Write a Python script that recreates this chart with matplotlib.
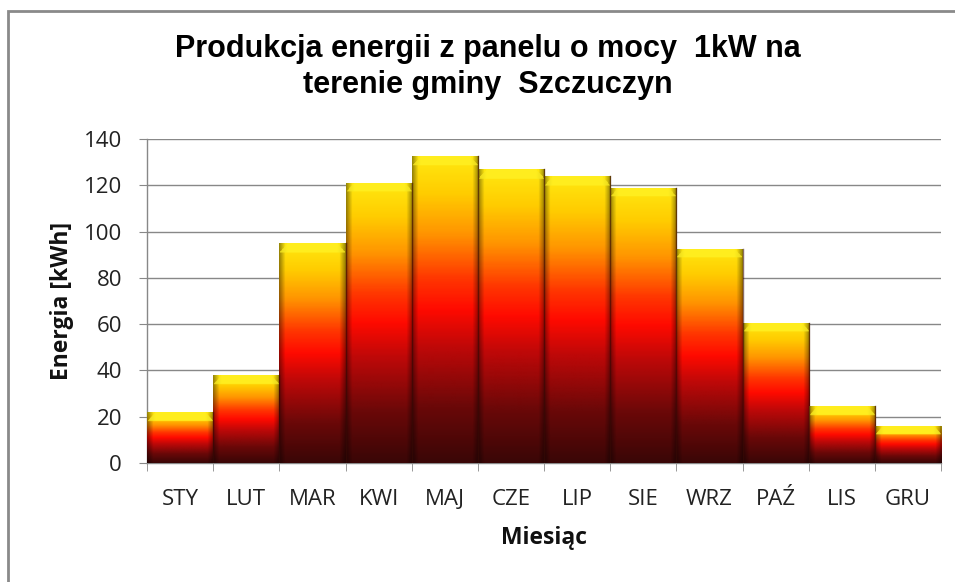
import matplotlib
matplotlib.use("Agg")
import matplotlib.pyplot as plt
import numpy as np
from matplotlib.colors import LinearSegmentedColormap
from matplotlib.patches import Rectangle

months = ["STY", "LUT", "MAR", "KWI", "MAJ", "CZE", "LIP", "SIE", "WRZ", "PAŹ", "LIS", "GRU"]
energy = [22, 38, 95, 121, 132.5, 127, 124, 119, 92.5, 60.5, 24.5, 16]
yticks = [0, 20, 40, 60, 80, 100, 120, 140]
title = "Produkcja energii z panelu o mocy  1kW na\nterenie gminy  Szczuczyn"
xlabel = "Miesiąc"
ylabel = "Energia [kWh]"

fig = plt.figure(figsize=(9.55, 5.82), dpi=100)
ax = fig.add_axes([147/955, 1-463/582, (941-147)/955, (463-139)/582])

cmap = LinearSegmentedColormap.from_list("sun", [
    (0.0, "#3a0606"), (0.18, "#6a0808"), (0.38, "#c00808"), (0.5, "#ff0a00"),
    (0.6, "#ff3500"), (0.75, "#ff9500"), (0.88, "#ffcc00"), (1.0, "#ffe810")])

x = np.arange(len(months))
bars = ax.bar(x, energy, width=1.0, facecolor="none", edgecolor="none", zorder=3)

px_per_unit = (463-139)/140.0
for b in bars:
    x0, w, h = b.get_x(), b.get_width(), b.get_height()
    ny, nx = 300, 66
    yy = np.linspace(0, 1, ny)[:, None]
    xx = np.linspace(0, 1, nx)[None, :]
    rgb = cmap(np.repeat(yy, nx, axis=1))[..., :3]
    # side shading
    edge = np.minimum(xx, 1 - xx) * w * 66  # pixels from edge
    shade = 0.6 + 0.4 * np.clip(edge / 6.0, 0, 1)
    rgb = rgb * shade[..., None]
    # top bevel
    ypix = (1 - yy) * h * px_per_unit  # pixels from top
    bevel = (ypix < 9) & (edge > (9 - ypix) * 0.9)
    bevel = np.broadcast_to(bevel, (ny, nx))
    light = np.array([1.0, 0.93, 0.12])
    rgb = np.where(bevel[..., None], light * (0.9 + 0.1 * np.clip(edge / 8.0, 0, 1))[..., None], rgb)
    im = ax.imshow(rgb, extent=(x0, x0 + w, 0, h), origin="lower", aspect="auto",
                   interpolation="bilinear", zorder=3)
    im.set_clip_path(b)
    ax.plot([x0 + w, x0 + w], [0, h], color="#3a0a05", lw=1.0, alpha=0.6, zorder=4)

ax.set_xlim(-0.5, len(months) - 0.5)
ax.set_ylim(0, 140)
ax.set_yticks(yticks)
ax.set_xticks(x)
ax.set_xticklabels(months)
ax.set_xticks(np.arange(len(months) + 1) - 0.5, minor=True)
ax.tick_params(axis="x", which="major", length=0, pad=19, labelsize=16, labelcolor="#222222")
ax.tick_params(axis="x", which="minor", length=6, color="#888888", direction="out")
ax.tick_params(axis="y", length=6, color="#888888", pad=12, labelsize=16, labelcolor="#222222")
for lab in ax.get_xticklabels() + ax.get_yticklabels():
    lab.set_family("Open Sans")

ax.grid(axis="y", color="#888888", lw=1.0, zorder=0)
ax.set_axisbelow(True)
for s in ["top", "right"]:
    ax.spines[s].set_visible(False)
for s in ["left", "bottom"]:
    ax.spines[s].set_color("#888888")
    ax.spines[s].set_linewidth(1.0)

ax.set_xlabel(xlabel, fontsize=16.5, fontweight="bold", family="Open Sans", color="#111111")
ax.set_ylabel(ylabel, fontsize=16.5, fontweight="bold", family="Open Sans", color="#111111")
ax.xaxis.set_label_coords(544/955, 1-538/582, transform=fig.transFigure)
ax.yaxis.set_label_coords(62/955, 1-301/582, transform=fig.transFigure)
ax.xaxis.label.set_va("center")
ax.yaxis.label.set_va("center")

fig.text(488/955, 1-67/582, title, ha="center", va="center", fontsize=22, fontweight="bold",
         family="Liberation Sans", linespacing=1.3)

fig.add_artist(Rectangle((8/955, -0.1), 1.2, 1.1 - 11/582, transform=fig.transFigure,
                         fill=False, edgecolor="#8a8a8a", lw=2.0))

fig.savefig("out.png", dpi=100)
